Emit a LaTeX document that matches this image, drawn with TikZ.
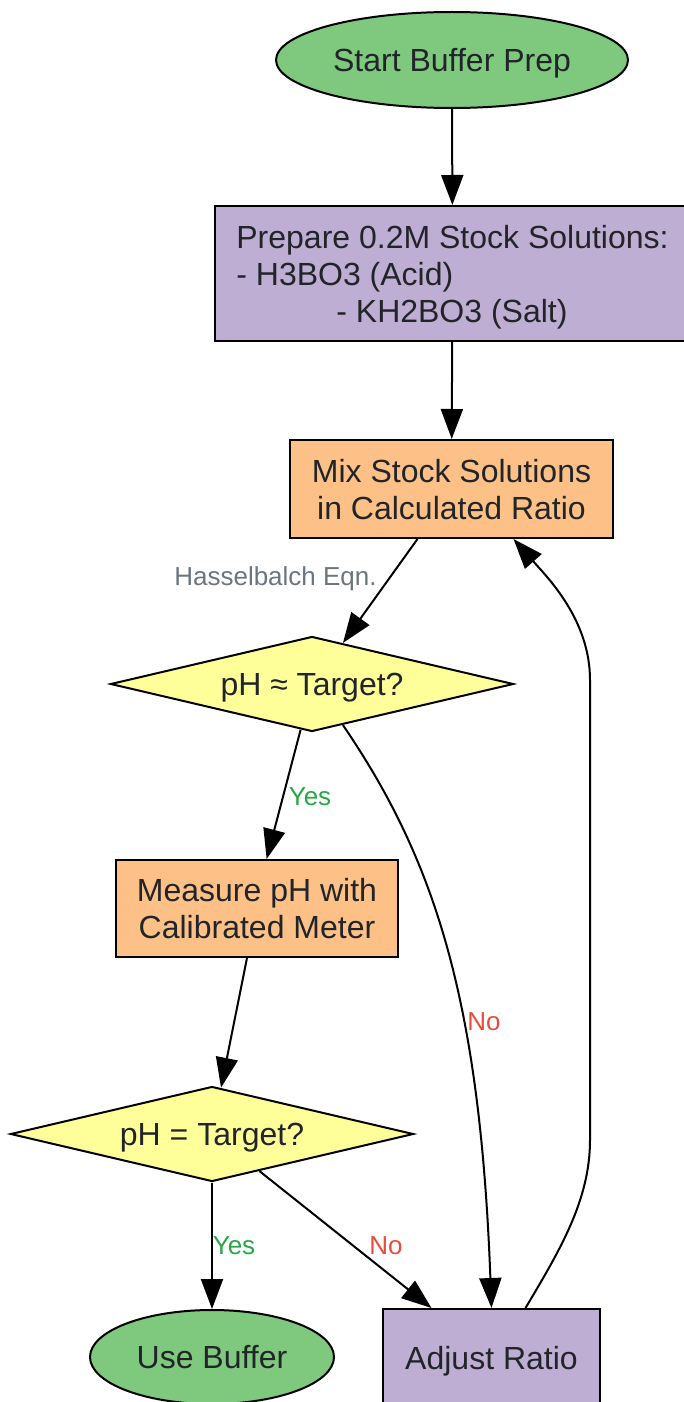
\documentclass[tikz,border=0pt]{standalone}
\usepackage{fontspec}
\setmainfont{Liberation Sans}
\usetikzlibrary{shapes.geometric,arrows.meta}

\definecolor{termgreen}{RGB}{127,201,127}
\definecolor{steplav}{RGB}{190,174,212}
\definecolor{steppeach}{RGB}{253,192,134}
\definecolor{checkyellow}{RGB}{255,255,153}
\definecolor{txtdark}{RGB}{33,37,41}
\definecolor{lblgray}{RGB}{108,117,125}
\definecolor{lblgreen}{RGB}{40,167,69}
\definecolor{lblred}{RGB}{231,76,60}

\begin{document}
\begin{tikzpicture}[
        x=0.5pt, y=-0.5pt,
        every node/.append style={font=\fontsize{16}{18.5}\selectfont, text=txtdark, text depth=0pt},
        terminal/.style={ellipse, draw=black, line width=1pt, fill=termgreen, inner sep=0pt},
        stepbox/.style={rectangle, draw=black, line width=1pt, inner sep=0pt, align=center},
        check/.style={diamond, draw=black, line width=1pt, fill=checkyellow, inner sep=0pt, aspect=4,
            minimum width=201.5pt, minimum height=47.5pt},
        edgelbl/.style={font=\fontsize{13}{15}\selectfont, inner sep=0pt},
        flow/.style={draw=black, line width=1pt, -{Triangle[length=15pt,width=11pt]}}
    ]
    \useasboundingbox (0,0) rectangle (684,1402);
    \clip (0,0) rectangle (684,1402);

    % nodes
    \node[terminal, minimum width=176pt, minimum height=48pt] (start) at (452,60) {Start Buffer Prep};
    \node[stepbox, fill=steplav, minimum width=237.5pt, minimum height=67.5pt, align=left] (prep) at (452.5,273.5)
        {Prepare 0.2M Stock Solutions:\\- H3BO3 (Acid)\\\hspace*{50pt}- KH2BO3 (Salt)};
    \node[stepbox, fill=steppeach, minimum width=161.5pt, minimum height=49pt] (mix) at (451.5,489)
        {Mix Stock Solutions\\in Calculated Ratio};
    \node[check] (approx) at (312,684) {pH \char"2248{} Target?};
    \node[stepbox, fill=steppeach, minimum width=141pt, minimum height=48.5pt] (measure) at (257,908.5)
        {Measure pH with\\Calibrated Meter};
    \node[check] (exact) at (212,1134) {pH = Target?};
    \node[terminal, minimum width=122pt, minimum height=47pt] (use) at (212,1357) {Use Buffer};
    \node[stepbox, fill=steplav, minimum width=108.5pt, minimum height=49pt] (adjust) at (491.5,1358) {Adjust Ratio};

    % connectors
    \draw[flow] (start) -- (prep);
    \draw[flow] (prep) -- (mix);
    \draw[flow] ([xshift=-17pt]mix.south) -- (approx.53);
    \draw[flow] (approx.-104) -- (measure.79);
    \draw[flow] ([xshift=-5pt]measure.south) -- (exact.79);
    \draw[flow] (exact) -- (use);
    \draw[flow] (exact.-38) -- ([xshift=-30pt]adjust.north);
    \draw[flow] (approx.-53) .. controls (435,860) and (480,1000) .. (adjust.north);
    \draw[flow] ([xshift=17pt]adjust.north) .. controls (560,1250) and (590,1200) .. (590,1140)
        -- (590,680) .. controls (590,620) and (548,578) .. ([xshift=31pt]mix.south);

    % labels
    \node[edgelbl, text=lblgray] (lblhh) at (275.5,576) {Hasselbalch Eqn.};
    \node[edgelbl, text=lblgreen] (lblyes1) at (310,797) {Yes};
    \node[edgelbl, text=lblred] (lblno1) at (484,1022) {No};
    \node[edgelbl, text=lblgreen] (lblyes2) at (234,1246) {Yes};
    \node[edgelbl, text=lblred] (lblno2) at (386,1246) {No};

\end{tikzpicture}
\end{document}
